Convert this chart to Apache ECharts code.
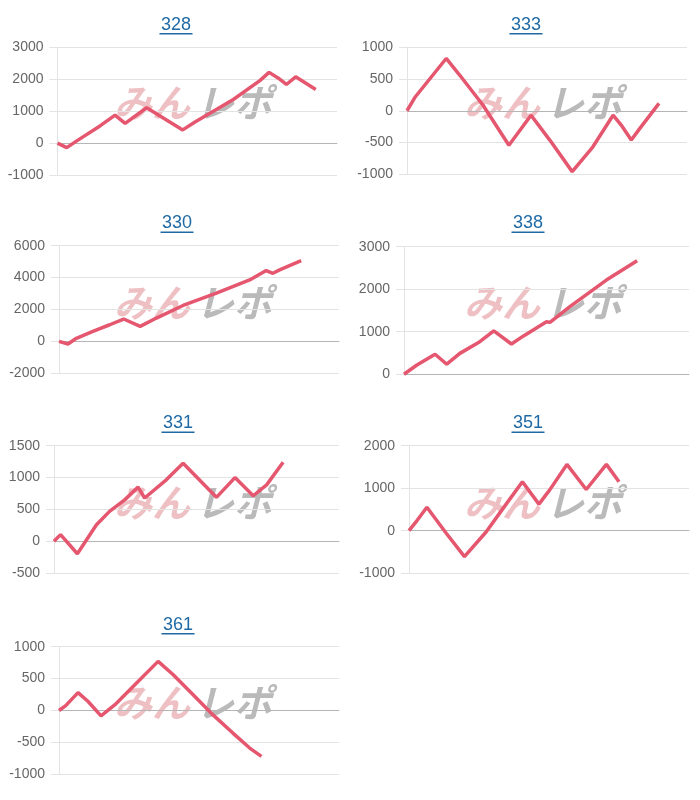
<!DOCTYPE html>
<html>
<head>
<meta charset="utf-8">
<script src="https://cdn.jsdelivr.net/npm/echarts@6/dist/echarts.min.js"></script>
<style>
html,body{margin:0;padding:0;background:#fff;}
#c{width:700px;height:800px;}
</style>
</head>
<body>
<div id="c"></div>
<script>
// ---- data ----
const machineNames = ['328', '333', '330', '338', '331', '351', '361'];

const games328 = [0, 33, 69, 152, 206, 242, 319, 448, 492, 629, 724, 757, 789, 819, 852, 924];
const diff328  = [0, -140, 70, 540, 880, 620, 1110, 415, 665, 1370, 1960, 2220, 2045, 1840, 2080, 1680];

const games333 = [0, 30, 140, 188, 271, 364, 443, 510, 590, 664, 736, 765, 801, 831, 900];
const diff333  = [0, 220, 820, 560, 90, -540, -70, -460, -955, -565, -70, -225, -460, -280, 115];

const games330 = [0, 32, 62, 121, 181, 231, 290, 348, 443, 562, 681, 740, 764, 788, 865];
const diff330  = [0, -170, 190, 625, 1040, 1400, 940, 1460, 2250, 3020, 3850, 4440, 4270, 4480, 5060];

const games338 = [0, 44, 109, 150, 196, 266, 315, 377, 418, 500, 512, 582, 710, 818];
const diff338  = [0, 210, 470, 235, 490, 765, 1020, 710, 895, 1235, 1220, 1590, 2215, 2670];

const games331 = [0, 23, 82, 149, 195, 248, 295, 318, 394, 453, 570, 635, 699, 746, 804];
const diff331  = [0, 105, -195, 260, 470, 650, 850, 680, 965, 1225, 690, 1000, 715, 885, 1240];

const games351 = [0, 30, 64, 133, 198, 276, 336, 405, 464, 502, 564, 633, 705, 750];
const diff351  = [0, 250, 550, -60, -610, -25, 525, 1150, 625, 955, 1560, 970, 1560, 1150];

const games361 = [0, 24, 68, 104, 150, 200, 277, 354, 408, 479, 550, 621, 681, 723];
const diff361  = [0, 75, 280, 140, -85, 90, 430, 770, 560, 245, -70, -355, -590, -720];

// y-axis ranges (min, max, interval) per chart
const yMin      = [-1000, -1000, -2000, 0, -500, -1000, -1000];
const yMax      = [3000, 1000, 6000, 3000, 1500, 2000, 1000];
const yInterval = [1000, 500, 2000, 1000, 500, 1000, 500];

const allGames = [games328, games333, games330, games338, games331, games351, games361];
const allDiffs = [diff328, diff333, diff330, diff338, diff331, diff351, diff361];

// ---- layout (positions only) ----
const cellOrigin = [[0,0],[350,0],[0,200],[350,200],[0,400],[350,400],[0,600]];
const gridLeft   = [57.5, 407, 59, 404, 54, 409, 59];
const gridRightX = [337, 687, 339, 689, 339, 689, 339];
const gridTopOff = [47.5, 47, 45.7, 46.7, 45.7, 45.7, 46.7];
const gridH = 127.5;
const titleX = [176, 526, 177, 528, 178, 528, 178];
const titleYOff = [25, 25, 23.5, 23.5, 23.5, 23.5, 25];

const chart = echarts.init(document.getElementById('c'), null, {renderer: 'canvas'});

const grids = [], xAxes = [], yAxes = [], series = [], graphics = [];
const font = 'Arial, "Liberation Sans", sans-serif';

machineNames.forEach((name, i) => {
  const [ox, oy] = cellOrigin[i];
  grids.push({
    left: gridLeft[i],
    top: oy + gridTopOff[i],
    width: gridRightX[i] - gridLeft[i],
    height: gridH
  });
  xAxes.push({
    type: 'value', gridIndex: i, min: 0, max: 1000,
    axisLabel: {show: false}, axisTick: {show: false}, splitLine: {show: false},
    axisLine: {show: true, onZero: true, lineStyle: {color: '#b5b5b5', width: 1}}
  });
  yAxes.push({
    type: 'value', gridIndex: i, min: yMin[i], max: yMax[i], interval: yInterval[i],
    axisLine: {show: true, lineStyle: {color: '#e3e3e3'}},
    axisTick: {show: true, length: 8, lineStyle: {color: '#e3e3e3'}},
    axisLabel: {color: '#666', fontSize: 14, margin: 14, fontFamily: font,
                formatter: v => String(v)},
    splitLine: {show: true, lineStyle: {color: '#e3e3e3'}}
  });
  series.push({
    type: 'line', xAxisIndex: i, yAxisIndex: i,
    data: allGames[i].map((g, k) => [g, allDiffs[i][k]]),
    showSymbol: false, smooth: false,
    lineStyle: {color: '#e5566f', width: 3.5},
    itemStyle: {color: '#e5566f'},
    z: 5
  });
  // title text
  graphics.push({
    type: 'text', x: titleX[i], y: oy + titleYOff[i], z: 10,
    style: {text: name, fontSize: 18, fontFamily: font, fill: '#1f6aa5',
            align: 'center', verticalAlign: 'middle'}
  });
  graphics.push({
    type: 'rect', z: 10,
    shape: {x: titleX[i] - 16.5, y: oy + titleYOff[i] + 8, width: 33, height: 1.5},
    style: {fill: '#1f6aa5'}
  });
  // watermark
  graphics.push({
    type: 'text', x: ox + 152, y: oy + 103, z: 0, silent: true,
    style: {text: 'みん', fontSize: 38, fontWeight: 'bold', fontStyle: 'italic',
            fontFamily: '"Noto Sans CJK JP", sans-serif',
            fill: 'rgba(228,150,155,0.6)', align: 'center', verticalAlign: 'middle'}
  });
  graphics.push({
    type: 'text', x: ox + 234, y: oy + 103, z: 0, silent: true,
    style: {text: 'レポ', fontSize: 38, fontWeight: 'bold', fontStyle: 'italic',
            fontFamily: '"Noto Sans CJK JP", sans-serif',
            fill: 'rgba(140,140,140,0.6)', align: 'center', verticalAlign: 'middle'}
  });
});

chart.setOption({
  animation: false,
  backgroundColor: '#ffffff',
  grid: grids,
  xAxis: xAxes,
  yAxis: yAxes,
  series: series,
  graphic: graphics
});
</script>
</body>
</html>
